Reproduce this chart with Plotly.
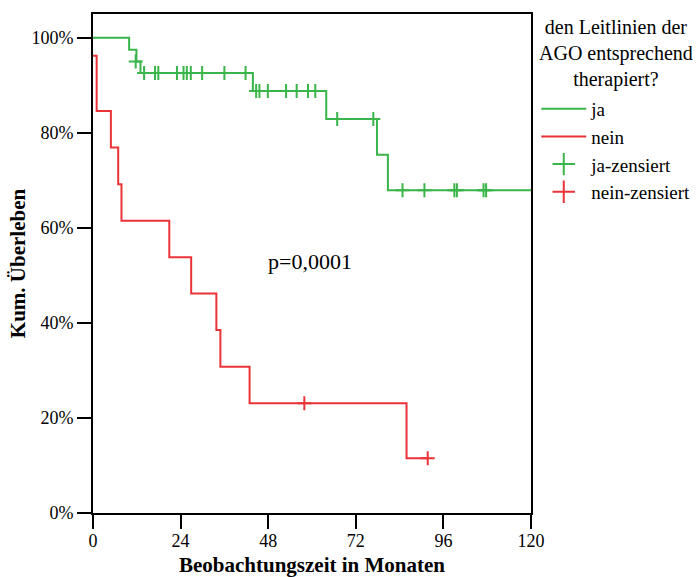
import plotly.graph_objects as go

# Kaplan-Meier steps (months, survival fraction)
ja_t = [0, 9.9, 11.9, 13.0, 43.8, 63.9, 77.8, 80.8, 120]
ja_s = [1.0, 0.975, 0.950, 0.926, 0.888, 0.829, 0.754, 0.679, 0.679]

nein_t = [0, 1.0, 4.9, 6.9, 7.8, 20.9, 26.9, 33.8, 34.9, 42.9, 85.9, 91.7]
nein_s = [0.962, 0.846, 0.769, 0.692, 0.615, 0.538, 0.462, 0.385, 0.308, 0.231, 0.115, 0.115]

# censored observations
ja_cens_t = [11.7, 14.0, 17.0, 17.9, 23.0, 24.8, 25.7, 26.8, 29.9, 36.0, 41.8,
             44.7, 45.6, 47.9, 52.9, 55.8, 58.9, 60.9, 66.9, 76.8,
             84.8, 90.8, 99.0, 99.7, 107.0, 107.7]
ja_cens_s = [0.950] + [0.926] * 10 + [0.888] * 7 + [0.829] * 2 + [0.679] * 6

nein_cens_t = [57.9, 91.7]
nein_cens_s = [0.231, 0.115]

x_ticks = [0, 24, 48, 72, 96, 120]
y_ticks = [0, 0.2, 0.4, 0.6, 0.8, 1.0]

GREEN = "rgb(57,181,74)"
RED = "rgb(234,51,55)"
FONT = "Liberation Serif"

fig = go.Figure()
fig.add_trace(go.Scatter(x=ja_t, y=ja_s, mode="lines", line=dict(color=GREEN, width=2, shape="hv"),
                         name="ja", legendgroup="ja"))
fig.add_trace(go.Scatter(x=nein_t, y=nein_s, mode="lines", line=dict(color=RED, width=2, shape="hv"),
                         name="nein", legendgroup="nein"))
fig.add_trace(go.Scatter(x=ja_cens_t, y=ja_cens_s, mode="markers",
                         marker=dict(symbol="cross-thin", size=10, line=dict(color=GREEN, width=2)),
                         name="ja-zensiert", legendgroup="jaz", showlegend=False))
fig.add_trace(go.Scatter(x=nein_cens_t, y=nein_cens_s, mode="markers",
                         marker=dict(symbol="cross-thin", size=10, line=dict(color=RED, width=2)),
                         name="nein-zensiert", legendgroup="neinz", showlegend=False))
# legend entries for censored marks
fig.add_trace(go.Scatter(x=[None], y=[None], mode="markers",
                         marker=dict(symbol="cross-thin", size=20, line=dict(color=GREEN, width=2)),
                         name="ja-zensiert", legendgroup="jaz"))
fig.add_trace(go.Scatter(x=[None], y=[None], mode="markers",
                         marker=dict(symbol="cross-thin", size=20, line=dict(color=RED, width=2)),
                         name="nein-zensiert", legendgroup="neinz"))

fig.add_annotation(x=59.5, y=0.53, xref="x", yref="y", text="p=0,0001", showarrow=False,
                   font=dict(family=FONT, size=22, color="black"))

# legend title (centered, three lines)
fig.add_annotation(x=1.193, y=1.0, xref="paper", yref="paper", xanchor="center", yanchor="top",
                   text="den Leitlinien der<br>AGO entsprechend<br>therapiert?", showarrow=False,
                   align="center", font=dict(family=FONT, size=20, color="black"))

fig.update_layout(
    width=697, height=577,
    margin=dict(l=93, r=166, t=14, b=64, autoexpand=False),
    paper_bgcolor="white", plot_bgcolor="white",
    font=dict(family=FONT, color="black"),
    showlegend=True,
    legend=dict(
        x=1.012, y=0.848, xanchor="left", yanchor="top",
        font=dict(family=FONT, size=19, color="black"),
        itemwidth=45, tracegroupgap=0, traceorder="normal",
        bgcolor="rgba(0,0,0,0)",
    ),
    xaxis=dict(
        range=[0, 120], tickvals=x_ticks, ticktext=[str(v) for v in x_ticks],
        showline=True, linecolor="black", linewidth=2, mirror=True,
        ticks="outside", ticklen=14, tickwidth=2, tickcolor="black",
        showgrid=False, zeroline=False, ticklabelstandoff=-4,
        tickfont=dict(family=FONT, size=18, color="black"),
        title=dict(text="<b>Beobachtungszeit in Monaten</b>", standoff=16,
                   font=dict(family=FONT, size=21, color="black")),
    ),
    yaxis=dict(
        range=[0, 1.05], tickvals=y_ticks, tickformat=".0%",
        showline=True, linecolor="black", linewidth=2, mirror=True,
        ticks="outside", ticklen=14, tickwidth=2, tickcolor="black",
        showgrid=False, zeroline=False,
        tickfont=dict(family=FONT, size=18, color="black"),
        title=dict(text="<b>Kum. Überleben</b>", standoff=0,
                   font=dict(family=FONT, size=21, color="black")),
    ),
)

fig.write_html("out.html")
